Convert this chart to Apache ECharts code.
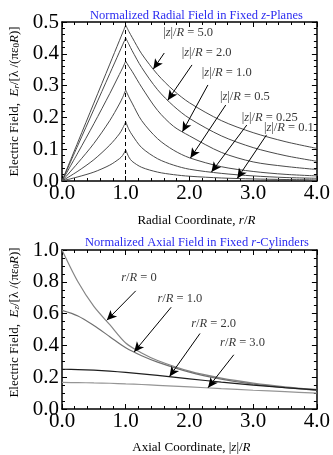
<!DOCTYPE html>
<html>
<head>
<meta charset="utf-8">
<script src="https://cdn.jsdelivr.net/npm/echarts@6/dist/echarts.min.js"></script>
<style>
  html, body { margin: 0; padding: 0; background: #fff; }
  #chart { width: 333px; height: 455px; }
</style>
</head>
<body>
<div id="chart"></div>
<script>
// ---- top panel: radial field vs r/R, one curve per |z|/R ----
const zPlanes = ['5.0', '2.0', '1.0', '0.5', '0.25', '0.1'];
const rInner = [0, 0.25, 0.5, 0.75, 0.9, 0.95, 1.0];
const rOuter = [1.0, 1.05, 1.1, 1.25, 1.5, 1.75, 2.0, 2.5, 3.0, 3.5, 4.0];

const erInZ50 = [0, 0.1225, 0.245, 0.3675, 0.441, 0.4655, 0.49];
const erInZ20 = [0, 0.1125, 0.225, 0.3375, 0.405, 0.4275, 0.45];
const erInZ10 = [0, 0.089, 0.18, 0.275, 0.335, 0.355, 0.377];
const erInZ05 = [0, 0.057, 0.118, 0.19, 0.242, 0.262, 0.286];
const erInZ025 = [0, 0.031, 0.067, 0.113, 0.148, 0.165, 0.186];
const erInZ01 = [0, 0.013, 0.028, 0.05, 0.07, 0.08, 0.0975];

const erOutZ50 = [0.49, 0.47, 0.452, 0.40, 0.335, 0.285, 0.246, 0.19, 0.152, 0.124, 0.1025];
const erOutZ20 = [0.45, 0.43, 0.41, 0.357, 0.287, 0.236, 0.197, 0.142, 0.105, 0.08, 0.062];
const erOutZ10 = [0.377, 0.36, 0.345, 0.295, 0.222, 0.172, 0.142, 0.09, 0.06, 0.046, 0.036];
const erOutZ05 = [0.286, 0.264, 0.245, 0.19, 0.133, 0.097, 0.073, 0.045, 0.03, 0.021, 0.016];
const erOutZ025 = [0.186, 0.162, 0.145, 0.105, 0.07, 0.05, 0.037, 0.024, 0.016, 0.011, 0.0085];
const erOutZ01 = [0.0975, 0.075, 0.062, 0.043, 0.028, 0.02, 0.015, 0.0095, 0.0065, 0.0047, 0.0035];

const erInner = [erInZ50, erInZ20, erInZ10, erInZ05, erInZ025, erInZ01];
const erOuter = [erOutZ50, erOutZ20, erOutZ10, erOutZ05, erOutZ025, erOutZ01];

// ---- bottom panel: axial field vs |z|/R, one curve per r/R ----
const rCylinders = ['0', '1.0', '2.0', '3.0'];
const zAxial = [0, 0.25, 0.5, 0.75, 1.0, 1.25, 1.5, 2.0, 2.5, 3.0, 3.5, 4.0];
const ezR0 = [1.0, 0.80, 0.645, 0.53, 0.415, 0.352, 0.305, 0.238, 0.194, 0.163, 0.14, 0.123];
const ezR1 = [0.62, 0.585, 0.525, 0.455, 0.385, 0.335, 0.295, 0.232, 0.188, 0.156, 0.134, 0.117];
const ezR2 = [0.25, 0.248, 0.244, 0.238, 0.23, 0.221, 0.211, 0.19, 0.169, 0.15, 0.134, 0.12];
const ezR3 = [0.167, 0.166, 0.164, 0.162, 0.158, 0.154, 0.149, 0.139, 0.128, 0.118, 0.109, 0.10];
const ezCurves = [ezR0, ezR1, ezR2, ezR3];
const ezColors = ['#858585', '#707070', '#1e1e1e', '#959595'];

// ---- annotations (label centre, arrow start, arrow tip) in data units ----
const topNoteAt = [[1.98, 0.465], [2.27, 0.4025], [2.585, 0.339], [2.87, 0.265], [3.26, 0.199], [3.56, 0.166]];
const topArrowFrom = [[1.605, 0.4025], [2.04, 0.365], [2.29, 0.302], [2.57, 0.239], [2.90, 0.176], [3.21, 0.145]];
const topArrowTo = [[1.433, 0.352], [1.66, 0.254], [1.89, 0.155], [2.015, 0.072], [2.345, 0.028], [2.75, 0.008]];

const botNoteAt = [[1.207, 0.825], [1.85, 0.691], [2.38, 0.537], [2.833, 0.414]];
const botArrowFrom = [[1.157, 0.743], [1.713, 0.64], [2.166, 0.475], [2.696, 0.341]];
const botArrowTo = [[0.703, 0.558], [1.132, 0.359], [1.687, 0.204], [2.292, 0.134]];

const serif = "'Liberation Serif', 'Times New Roman', serif";
const pairs = (xs, ys) => xs.map((x, i) => [x, ys[i]]);

const richText = {
  n: { fontFamily: serif, fontSize: 13, color: '#000' },
  i: { fontFamily: serif, fontSize: 13, fontStyle: 'italic', color: '#000' },
  s: { fontFamily: serif, fontSize: 9, color: '#000', verticalAlign: 'bottom', lineHeight: 10 },
  si: { fontFamily: serif, fontSize: 9, fontStyle: 'italic', color: '#000', verticalAlign: 'bottom', lineHeight: 10 }
};
const noteRich = {
  i: { fontFamily: serif, fontSize: 12.5, fontStyle: 'italic', color: '#000' }
};

function xAxisMain(grid) {
  return {
    type: 'value', gridIndex: grid, position: 'bottom', min: 0, max: 4, interval: 1,
    axisLine: { show: true, onZero: false, lineStyle: { color: '#000', width: 1.5 } },
    axisTick: { show: true, inside: true, length: 5, lineStyle: { color: '#000' } },
    minorTick: { show: true, splitNumber: 5, length: 3, lineStyle: { color: '#000' } },
    splitLine: { show: false },
    axisLabel: { fontFamily: serif, fontSize: 21, color: '#000', margin: 2, formatter: v => v.toFixed(1) },
    nameLocation: 'middle'
  };
}
function xAxisMirror(grid) {
  return {
    type: 'value', gridIndex: grid, position: 'top', min: 0, max: 4, interval: 1,
    axisLine: { show: true, onZero: false, lineStyle: { color: '#000', width: 1.5 } },
    axisTick: { show: true, inside: true, length: 5, lineStyle: { color: '#000' } },
    minorTick: { show: true, splitNumber: 5, length: 3, lineStyle: { color: '#000' } },
    splitLine: { show: false },
    axisLabel: { show: false }
  };
}
function yAxisMain(grid, max, step, minor) {
  return {
    type: 'value', gridIndex: grid, position: 'left', min: 0, max: max, interval: step,
    axisLine: { show: true, onZero: false, lineStyle: { color: '#000', width: 1.5 } },
    axisTick: { show: true, inside: true, length: 5, lineStyle: { color: '#000' } },
    minorTick: { show: true, splitNumber: minor, length: 3, lineStyle: { color: '#000' } },
    splitLine: { show: false },
    axisLabel: { fontFamily: serif, fontSize: 21, color: '#000', margin: 3, formatter: v => v.toFixed(1) },
    nameLocation: 'middle', nameRotate: 90
  };
}
function yAxisMirror(grid, max, step, minor) {
  return {
    type: 'value', gridIndex: grid, position: 'right', min: 0, max: max, interval: step,
    axisLine: { show: true, onZero: false, lineStyle: { color: '#000', width: 1.5 } },
    axisTick: { show: true, inside: true, length: 5, lineStyle: { color: '#000' } },
    minorTick: { show: true, splitNumber: minor, length: 3, lineStyle: { color: '#000' } },
    splitLine: { show: false },
    axisLabel: { show: false }
  };
}

const xTop = xAxisMain(0);
xTop.name = '{n|Radial Coordinate, }{i|r}{n|/}{i|R}';
xTop.nameGap = 33;
xTop.nameTextStyle = { rich: richText, padding: [0, 0, 0, 14] };
const xBot = xAxisMain(1);
xBot.name = '{n|Axial Coordinate, |}{i|z}{n||/}{i|R}';
xBot.nameGap = 32;
xBot.nameTextStyle = { rich: richText, padding: [0, 0, 0, 4] };

const yTop = yAxisMain(0, 0.5, 0.1, 5);
yTop.name = '{n|Electric Field,  }{i|E}{si|r}{n|/[λ /(πε}{s|0}{i|R}{n|)]}';
yTop.nameGap = 41;
yTop.nameTextStyle = { rich: richText };
const yBot = yAxisMain(1, 1.0, 0.2, 4);
yBot.name = '{n|Electric Field,  }{i|E}{si|z}{n|/[λ /(πε}{s|0}{i|R}{n|)]}';
yBot.nameGap = 41;
yBot.nameTextStyle = { rich: richText, padding: [0, 0, 0, 14] };

const series = [];
const topColor = '#4a4a4a';
zPlanes.forEach((z, k) => {
  series.push({
    name: '|z|/R = ' + z, type: 'line', xAxisIndex: 0, yAxisIndex: 0,
    data: pairs(rInner, erInner[k]), smooth: 0.3, showSymbol: false, silent: true,
    lineStyle: { color: topColor, width: 1 }
  });
  series.push({
    type: 'line', xAxisIndex: 0, yAxisIndex: 0,
    data: pairs(rOuter, erOuter[k]), smooth: 0.3, showSymbol: false, silent: true,
    lineStyle: { color: topColor, width: 1 }
  });
});

// dashed guide at r/R = 1
series.push({
  type: 'line', xAxisIndex: 0, yAxisIndex: 0, data: [], silent: true,
  markLine: {
    silent: true, symbol: 'none', animation: false, label: { show: false },
    lineStyle: { color: '#000', width: 1, type: [4, 3] },
    data: [{ xAxis: 1 }]
  }
});

ezCurves.forEach((ys, k) => {
  series.push({
    name: 'r/R = ' + rCylinders[k], type: 'line', xAxisIndex: 2, yAxisIndex: 2,
    data: pairs(zAxial, ys), smooth: 0.3, showSymbol: false, silent: true,
    lineStyle: { color: ezColors[k], width: 1.2 }
  });
});

function noteSeries(xi, yi, at, from, to, texts) {
  return {
    type: 'scatter', xAxisIndex: xi, yAxisIndex: yi, silent: true,
    symbolSize: 1, itemStyle: { color: 'rgba(0,0,0,0)' },
    data: at.map((p, k) => ({ value: p, name: texts[k] })),
    label: {
      show: true, position: 'inside', formatter: p => p.name,
      fontFamily: serif, fontSize: 12.5, color: '#000', rich: noteRich
    },
    markLine: {
      silent: true, animation: false, symbol: ['none', 'arrow'], symbolSize: [7, 10],
      label: { show: false },
      lineStyle: { color: '#000', width: 1, type: 'solid' },
      data: from.map((f, k) => [{ coord: f }, { coord: to[k] }])
    }
  };
}
series.push(noteSeries(0, 0, topNoteAt, topArrowFrom, topArrowTo,
  zPlanes.map(z => '|{i|z}|/{i|R} = ' + z)));
series.push(noteSeries(2, 2, botNoteAt, botArrowFrom, botArrowTo,
  rCylinders.map(r => '{i|r}/{i|R} = ' + r)));

const titleRich = { i: { fontFamily: serif, fontSize: 12.5, fontStyle: 'italic', color: '#2b2bf0' } };
const option = {
  animation: false,
  backgroundColor: '#fff',
  title: [
    {
      text: 'Normalized Radial Field in Fixed {i|z}-Planes', left: 85, top: 4,
      textStyle: { fontFamily: serif, fontSize: 12.5, fontWeight: 'normal', color: '#2b2bf0', rich: titleRich }
    },
    {
      text: 'Normalized Axial Field in Fixed {i|r}-Cylinders', left: 80, top: 231,
      textStyle: { fontFamily: serif, fontSize: 12.5, fontWeight: 'normal', color: '#2b2bf0', rich: titleRich }
    }
  ],
  grid: [
    { left: 57, top: 22, width: 263, height: 159, containLabel: false },
    { left: 55, top: 250, width: 265, height: 162, containLabel: false }
  ],
  xAxis: [xTop, xAxisMirror(0), xBot, xAxisMirror(1)],
  yAxis: [yTop, yAxisMirror(0, 0.5, 0.1, 5), yBot, yAxisMirror(1, 1.0, 0.2, 4)],
  series: series
};

const chart = echarts.init(document.getElementById('chart'));
chart.setOption(option);
window.addEventListener('resize', () => chart.resize());
</script>
</body>
</html>
